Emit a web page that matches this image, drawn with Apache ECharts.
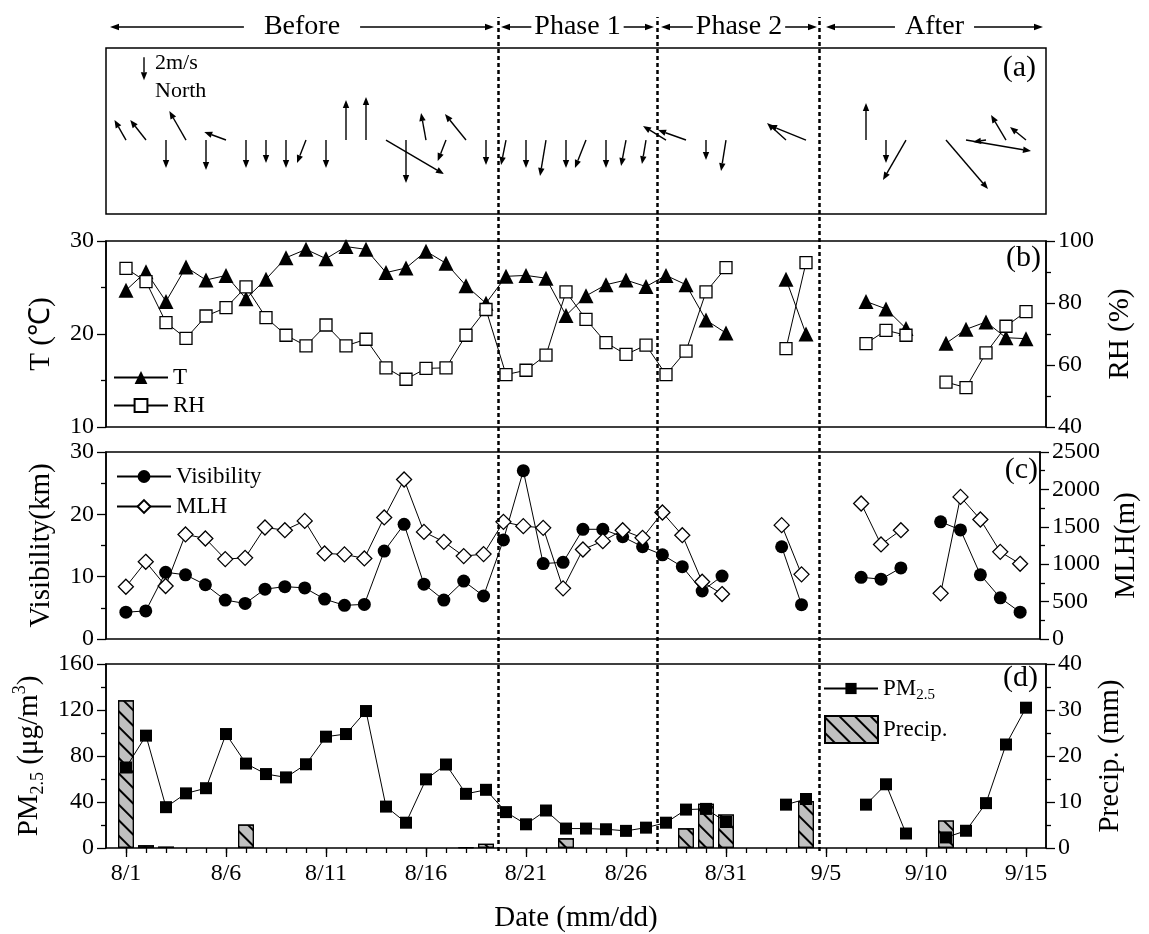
<!DOCTYPE html>
<html>
<head>
<meta charset="utf-8">
<script src="https://cdn.jsdelivr.net/npm/echarts@6/dist/echarts.min.js"></script>
<style>
html, body { margin: 0; background: #fff; }
#main { width: 1149px; height: 934px; }
</style>
</head>
<body>
<div id="main"></div>
<script>
// day index 0 = 8/1 ... 45 = 9/15, null = no data
var dateLabels = ['8/1', '8/6', '8/11', '8/16', '8/21', '8/26', '8/31', '9/5', '9/10', '9/15'];
var labelDays = [0, 5, 10, 15, 20, 25, 30, 35, 40, 45];

// wind vector, east (u) and north (v) components, m/s
var windU = [-1.0, -1.37, 0, -1.45, 0, -1.89, 0, 0, 0, -0.78, 0, 0, 0, 5.04, 0, -0.43, -0.72, -1.83, 0, -0.43,
    0, -0.52, 0, -0.96, 0, -0.43, -0.35, -2.0, -2.43, 0, -0.43, null, null, -1.65, -3.22, null, null, 0, 0, -2.0,
    null, 3.65, 5.65, -1.13, -1.3, -1.39];
var windV = [1.74, 1.74, -2.43, 2.52, -2.6, 0.7, -2.43, -2.0, -2.43, -2.0, -2.43, 3.48, 3.74, -2.96, -3.74, 2.35, -1.83, 2.26, -2.17, -2.17,
    -2.43, -3.13, -2.43, -2.43, -2.43, -2.26, -2.09, 1.22, 0.87, -1.74, -2.7, null, null, 1.48, 1.3, null, null, 3.22, -2.0, -3.48,
    null, -4.26, -0.96, -0.17, 2.17, 1.13];

var tempT = [24.7, 26.7, 23.5, 27.2, 25.8, 26.3, 23.8, 25.9, 28.2, 29.1, 28.1, 29.4, 29.1, 26.6, 27.1, 28.9, 27.6, 25.2, 23.3, 26.2,
    26.3, 26.0, 22.0, 24.1, 25.3, 25.8, 25.1, 26.3, 25.3, 21.5, 20.1, null, null, 25.9, 20.0, null, null, 23.5, 22.7, 20.6,
    null, 19.0, 20.5, 21.3, 19.6, 19.5];
var relHum = [91.2, 86.9, 73.7, 68.6, 75.8, 78.5, 85.2, 75.3, 69.6, 66.2, 72.9, 66.2, 68.3, 59.1, 55.4, 58.9, 59.1, 69.6, 77.9, 56.9,
    58.3, 63.2, 83.6, 74.7, 67.2, 63.4, 66.4, 56.9, 64.5, 83.6, 91.4, null, null, 65.3, 93.0, null, null, 66.9, 71.2, 69.6,
    null, 54.5, 52.7, 63.9, 72.5, 77.2];
var visib = [4.3, 4.5, 10.7, 10.3, 8.7, 6.25, 5.7, 8.0, 8.4, 8.2, 6.4, 5.4, 5.55, 14.1, 18.4, 8.8, 6.25, 9.3, 6.9, 15.9,
    27.0, 12.1, 12.3, 17.6, 17.6, 16.4, 14.8, 13.5, 11.6, 7.7, 10.1, null, null, 14.8, 5.5, null, null, 9.9, 9.6, 11.4,
    null, 18.8, 17.5, 10.3, 6.6, 4.3];
var mlh = [698, 1032, 708, 1398, 1344, 1068, 1085, 1491, 1455, 1579, 1144, 1131, 1077, 1625, 2132, 1432, 1299, 1108, 1135, 1566,
    1509, 1486, 677, 1197, 1308, 1455, 1352, 1691, 1388, 765, 601, null, null, 1522, 864, null, null, 1812, 1264, 1455,
    null, 610, 1900, 1598, 1165, 1005];
var pm25 = [70.0, 97.7, 35.5, 47.5, 52.0, 99.1, 73.4, 64.3, 61.4, 72.8, 96.8, 99.1, 119.1, 36.0, 22.0, 59.7, 72.6, 47.1, 50.6, 31.2,
    20.6, 32.6, 16.9, 16.9, 16.3, 14.9, 17.7, 22.0, 33.4, 34.0, 22.6, null, null, 37.7, 42.6, null, null, 37.7, 55.4, 12.6,
    null, 9.2, 15.0, 39.0, 90.0, 122.0];
var precipDays = [0, 1, 2, 6, 17, 18, 22, 28, 29, 30, 34, 41];
var precipVals = [32.1, 0.6, 0.3, 5.1, 0.2, 0.9, 2.1, 4.3, 9.6, 7.3, 10.2, 6.0];

var phaseNames = ['Before', 'Phase 1', 'Phase 2', 'After'];
var phaseStart = [-0.8, 18.75, 26.75, 35.0];
var phaseEnd = [18.4, 26.4, 34.55, 45.85];
var phaseBounds = [18.6, 26.55, 34.65];

var FONT = '"Liberation Serif", "Times New Roman", serif';
var chart = echarts.init(document.getElementById('main'));

function toPairs(arr) {
    var out = [];
    for (var i = 0; i < arr.length; i++) out.push([i, arr[i] == null ? '-' : arr[i]]);
    return out;
}
var windData = [];
for (var i = 0; i < windU.length; i++) {
    if (windU[i] != null) windData.push([i, 0, windU[i], windV[i]]);
}
var allDays = [];
for (var i = 0; i < tempT.length; i++) allDays.push(i);
var precipData = precipDays.map(function(d, i) { return [d, precipVals[i]]; });

function arrowItem(params, api) {
    var p0 = api.coord([api.value(0), api.value(1)]);
    var k = api.size([0, 1])[1];
    var x1 = p0[0] + api.value(2) * k, y1 = p0[1] - api.value(3) * k;
    var ang = Math.atan2(y1 - p0[1], x1 - p0[0]);
    var hl = 8, hw = 3.2;
    var bx = x1 - hl * Math.cos(ang), by = y1 - hl * Math.sin(ang);
    var nx = -Math.sin(ang) * hw, ny = Math.cos(ang) * hw;
    return {
        type: 'group',
        children: [
            { type: 'line', shape: { x1: p0[0], y1: p0[1], x2: bx, y2: by }, style: { stroke: '#000', lineWidth: 1.4 } },
            { type: 'polygon', shape: { points: [[x1, y1], [bx + nx, by + ny], [bx - nx, by - ny]] }, style: { fill: '#000' } }
        ]
    };
}

function headItem(params, api) {
    var i = params.dataIndex;
    var pad = [20, 3, 3, 10][i];
    var p0 = api.coord([api.value(0), 0.988]);
    var p1 = api.coord([api.value(1), 0.988]);
    var hl = 9, hw = 3.2;
    var cx = (p0[0] + p1[0]) / 2;
    return {
        type: 'group',
        children: [
            { type: 'line', shape: { x1: p0[0] + hl, y1: p0[1], x2: p1[0] - hl, y2: p1[1] }, style: { stroke: '#000', lineWidth: 1.4 } },
            { type: 'polygon', shape: { points: [[p0[0], p0[1]], [p0[0] + hl, p0[1] - hw], [p0[0] + hl, p0[1] + hw]] }, style: { fill: '#000' } },
            { type: 'polygon', shape: { points: [[p1[0], p1[1]], [p1[0] - hl, p1[1] - hw], [p1[0] - hl, p1[1] + hw]] }, style: { fill: '#000' } },
            { type: 'text', x: cx, y: p0[1], style: { text: phaseNames[i], fill: '#000', font: '28px ' + FONT, align: 'center', verticalAlign: 'middle', backgroundColor: '#fff', padding: [2, pad] } }
        ]
    };
}

function xa(gi, extra) {
    return Object.assign({
        type: 'value', gridIndex: gi, min: -1, max: 46,
        axisLine: { show: false, onZero: false }, axisTick: { show: false }, axisLabel: { show: false }, splitLine: { show: false }
    }, extra || {});
}
function ya(gi, pos, min, max, interval, name, gap, extra) {
    return Object.assign({
        type: 'value', gridIndex: gi, position: pos, min: min, max: max, interval: interval,
        axisLine: { show: true, onZero: false, lineStyle: { color: '#000', width: 1.5 } },
        axisTick: { show: true, length: 9, lineStyle: { color: '#000', width: 1.3 } },
        minorTick: { show: true, splitNumber: 2, length: 5, lineStyle: { color: '#000', width: 1.3 } },
        axisLabel: { fontFamily: FONT, fontSize: 24, color: '#000', margin: 12, formatter: function(v) { return String(v); } },
        splitLine: { show: false },
        name: name, nameLocation: 'middle', nameGap: gap,
        nameTextStyle: { fontFamily: FONT, fontSize: 29, color: '#000' }
    }, extra || {});
}
function hidY(gi, min, max) {
    return { type: 'value', gridIndex: gi, min: min, max: max, show: false, axisLine: { onZero: false } };
}

var gridBase = { left: 106, right: 103, show: true, borderColor: '#000', borderWidth: 1.5 };
var lineBase = { type: 'line', connectNulls: false, lineStyle: { color: '#000', width: 1 }, color: '#000' };
var legText = { fontFamily: FONT, fontSize: 23, color: '#000' };

var option = {
    animation: false,
    backgroundColor: '#fff',
    grid: [
        Object.assign({ top: 48, height: 166 }, gridBase),
        Object.assign({ top: 241, height: 186 }, gridBase),
        Object.assign({ top: 452, height: 187 }, gridBase),
        Object.assign({ top: 664, height: 187 }, gridBase),
        { left: 106, right: 103, top: 17, height: 834, show: false }
    ],
    xAxis: [
        xa(0), xa(1), xa(2),
        xa(3, { position: 'bottom', axisTick: { show: true, customValues: allDays, length: 5, lineStyle: { color: '#000', width: 1.3 } } }),
        xa(3, {
            position: 'bottom',
            axisTick: { show: true, customValues: labelDays, length: 9, lineStyle: { color: '#000', width: 1.3 } },
            axisLabel: {
                show: true, customValues: labelDays, margin: 14, fontFamily: FONT, fontSize: 24, color: '#000',
                formatter: function(v) { return dateLabels[labelDays.indexOf(v)]; }
            },
            name: 'Date (mm/dd)', nameLocation: 'middle', nameGap: 56,
            nameTextStyle: { fontFamily: FONT, fontSize: 29, color: '#000' }
        }),
        xa(4)
    ],
    yAxis: [
        hidY(0, -6.43, 8.0),
        ya(1, 'left', 10, 30, 10, 'T (℃)', 50),
        ya(1, 'right', 40, 100, 20, 'RH (%)', 60),
        ya(2, 'left', 0, 30, 10, 'Visibility(km)', 50),
        ya(2, 'right', 0, 2500, 500, 'MLH(m)', 72),
        ya(3, 'left', 0, 160, 40, '{a|PM}{s|2.5}{a| (μg/m}{p|3}{a|)}', 58, {
            nameTextStyle: {
                fontFamily: FONT, fontSize: 29, color: '#000',
                rich: {
                    a: { fontFamily: FONT, fontSize: 29, color: '#000', lineHeight: 36 },
                    s: { fontFamily: FONT, fontSize: 18, color: '#000', lineHeight: 36, verticalAlign: 'bottom' },
                    p: { fontFamily: FONT, fontSize: 18, color: '#000', lineHeight: 36, verticalAlign: 'top' }
                }
            }
        }),
        ya(3, 'right', 0, 40, 10, 'Precip. (mm)', 50),
        hidY(4, 0, 1)
    ],
    legend: [
        { data: ['T', 'RH'], orient: 'vertical', left: 108, top: 361, itemWidth: 54, itemHeight: 16, itemGap: 5, textStyle: legText },
        { data: ['Visibility', 'MLH'], orient: 'vertical', left: 111, top: 460, itemWidth: 54, itemHeight: 16, itemGap: 7, textStyle: legText },
        {
            data: ['PM2.5'], left: 818, top: 672, itemWidth: 54, itemHeight: 14, textStyle: Object.assign({
                rich: {
                    a: { fontFamily: FONT, fontSize: 23, color: '#000', lineHeight: 28 },
                    s: { fontFamily: FONT, fontSize: 15, color: '#000', lineHeight: 28, verticalAlign: 'bottom' }
                }
            }, legText),
            formatter: function() { return '{a|PM}{s|2.5}'; }
        },
        { data: ['Precip.'], icon: 'rect', left: 819, top: 710, itemWidth: 53, itemHeight: 27, textStyle: legText }
    ],
    graphic: [
        { type: 'text', left: 155, top: 52, style: { text: '2m/s', font: '22px ' + FONT, fill: '#000' } },
        { type: 'text', left: 155, top: 80, style: { text: 'North', font: '22px ' + FONT, fill: '#000' } },
        { type: 'text', right: 113, top: 53, style: { text: '(a)', font: '30px ' + FONT, fill: '#000' } },
        { type: 'text', right: 108, top: 243, style: { text: '(b)', font: '30px ' + FONT, fill: '#000' } },
        { type: 'text', right: 111, top: 455, style: { text: '(c)', font: '30px ' + FONT, fill: '#000' } },
        { type: 'text', right: 111, top: 663, style: { text: '(d)', font: '30px ' + FONT, fill: '#000' } }
    ],
    series: [
        { type: 'custom', name: 'wind', xAxisIndex: 0, yAxisIndex: 0, clip: false, renderItem: arrowItem, data: windData },
        { type: 'custom', name: 'windKey', xAxisIndex: 0, yAxisIndex: 0, clip: false, renderItem: arrowItem, data: [[0.9, 7.2, 0, -2]] },
        Object.assign({}, lineBase, { name: 'T', xAxisIndex: 1, yAxisIndex: 1, symbol: 'triangle', symbolSize: 15, data: toPairs(tempT) }),
        Object.assign({}, lineBase, {
            name: 'RH', xAxisIndex: 1, yAxisIndex: 2, symbol: 'rect', symbolSize: 12,
            itemStyle: { color: '#fff', borderColor: '#000', borderWidth: 1.3 }, data: toPairs(relHum)
        }),
        Object.assign({}, lineBase, { name: 'Visibility', xAxisIndex: 2, yAxisIndex: 3, symbol: 'circle', symbolSize: 13, data: toPairs(visib) }),
        Object.assign({}, lineBase, {
            name: 'MLH', xAxisIndex: 2, yAxisIndex: 4, symbol: 'diamond', symbolSize: 15,
            itemStyle: { color: '#fff', borderColor: '#000', borderWidth: 1.3 }, data: toPairs(mlh)
        }),
        {
            type: 'bar', name: 'Precip.', xAxisIndex: 3, yAxisIndex: 6, barWidth: 16, data: precipData,
            itemStyle: {
                color: '#c0c0c0', borderColor: '#000', borderWidth: 1.2,
                decal: { symbol: 'rect', symbolSize: 1, dashArrayX: [1, 0], dashArrayY: [1.2, 9], rotation: Math.PI / 4, color: '#000' }
            }
        },
        Object.assign({}, lineBase, { name: 'PM2.5', xAxisIndex: 3, yAxisIndex: 5, symbol: 'rect', symbolSize: 12, data: toPairs(pm25) }),
        {
            type: 'line', name: 'bounds', xAxisIndex: 5, yAxisIndex: 7, data: [],
            markLine: {
                silent: true, symbol: ['none', 'none'], label: { show: false },
                lineStyle: { color: '#000', type: [4, 3], width: 2.5 },
                data: phaseBounds.map(function(x) { return { xAxis: x }; })
            }
        },
        {
            type: 'custom', name: 'phases', xAxisIndex: 5, yAxisIndex: 7, clip: false, renderItem: headItem, z: 5,
            data: phaseStart.map(function(s, i) { return [s, phaseEnd[i]]; })
        }
    ]
};
chart.setOption(option);
</script>
</body>
</html>
